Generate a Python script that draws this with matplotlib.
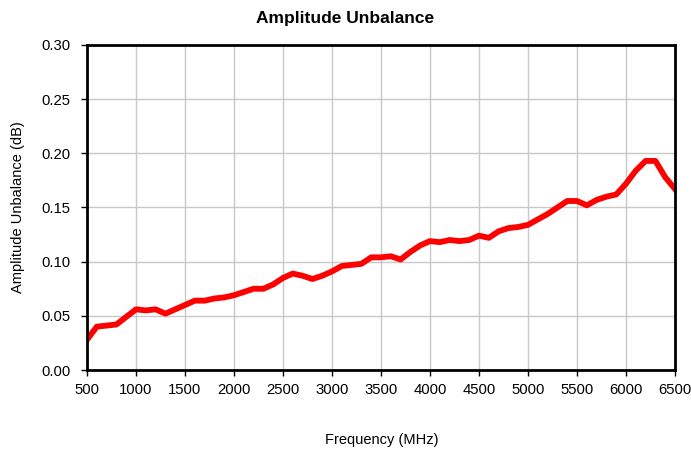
import matplotlib
matplotlib.use("Agg")
import matplotlib.pyplot as plt
import numpy as np

plt.rcParams['font.family'] = ['Liberation Sans', 'DejaVu Sans']

freq = list(range(500, 6501, 100))
unbalance = [0.028, 0.040, 0.041, 0.042, 0.049, 0.056, 0.055, 0.056, 0.052, 0.056,
             0.060, 0.064, 0.064, 0.066, 0.067, 0.069, 0.072, 0.075, 0.075, 0.079,
             0.085, 0.089, 0.087, 0.084, 0.087, 0.091, 0.096, 0.097, 0.098, 0.104,
             0.104, 0.105, 0.102, 0.109, 0.115, 0.119, 0.118, 0.120, 0.119, 0.120,
             0.124, 0.122, 0.128, 0.131, 0.132, 0.134, 0.139, 0.144, 0.150, 0.156,
             0.156, 0.152, 0.157, 0.160, 0.162, 0.172, 0.184, 0.193, 0.193, 0.178,
             0.167]
xticks = list(range(500, 6501, 500))
yticks = [0.00, 0.05, 0.10, 0.15, 0.20, 0.25, 0.30]

fig = plt.figure(figsize=(6.91, 4.55), dpi=100)
ax = fig.add_axes([87/691, 1 - 370/455, (675-87)/691, (370-45)/455])
ax.plot(freq, unbalance, color='#ff0000', linewidth=4.2, solid_joinstyle='round')
ax.set_xlim(500, 6500)
ax.set_ylim(0, 0.30)
ax.set_xticks(xticks)
ax.set_yticks(yticks)
ax.set_yticklabels([f"{v:.2f}" for v in yticks])
ax.grid(True, color='#c8c8c8', linewidth=1)
ax.set_axisbelow(True)
for s in ax.spines.values():
    s.set_linewidth(2)
    s.set_color('black')
ax.tick_params(direction='out', length=4, width=1, labelsize=10.7)
ax.tick_params(axis='y', pad=8)
ax.tick_params(axis='x', pad=5)
fig.text(0.5, 1 - 18/455, 'Amplitude Unbalance', fontsize=12.5, fontweight='bold',
         ha='center', va='center')
fig.text(0.5 * (87 + 676) / 691, 1 - 440/455, 'Frequency (MHz)', fontsize=10.5,
         ha='center', va='center')
fig.text(18/691, 1 - (45 + 370) / 2 / 455, 'Amplitude Unbalance (dB)', fontsize=10.5,
         ha='center', va='center', rotation=90)
fig.savefig('out.png', dpi=100)
